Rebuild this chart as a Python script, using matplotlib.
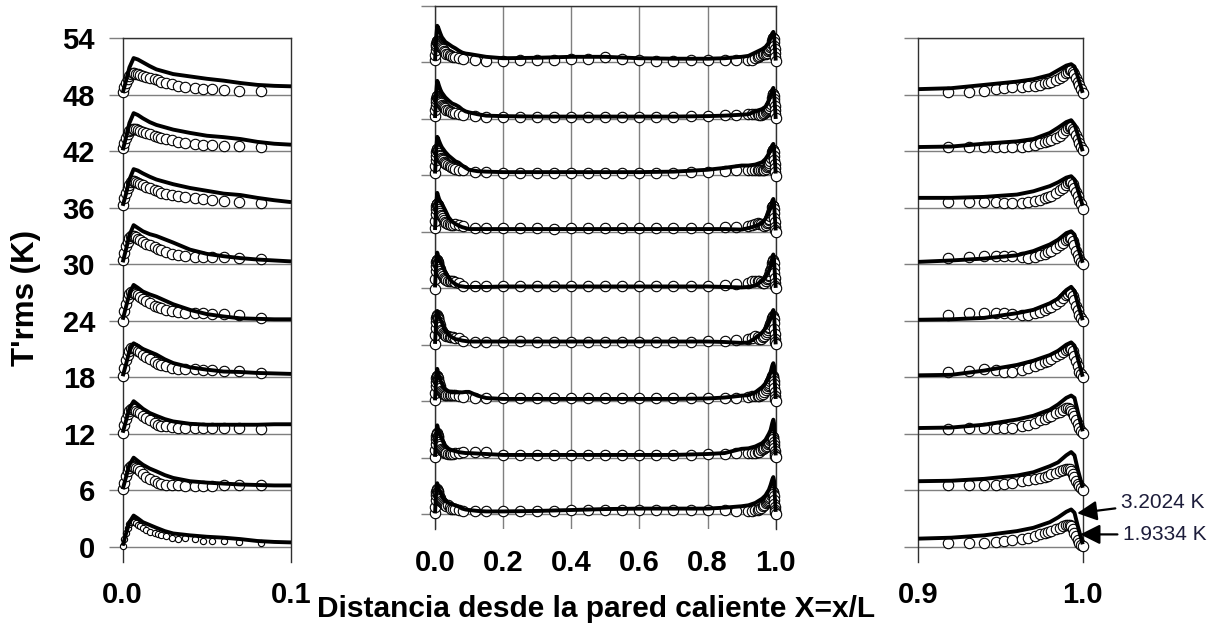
import matplotlib
matplotlib.use("Agg")
import matplotlib.pyplot as plt
import numpy as np

plt.rcParams["font.family"] = ["Liberation Sans", "DejaVu Sans"]

#------------------------------------------
# Datos: perfiles de T'rms (desplazados 6 K)
#------------------------------------------
offsets = [0, 6, 12, 18, 24, 30, 36, 42, 48]

# malla de la simulación (línea)
x_line = [0, 0.002, 0.004, 0.0065, 0.009, 0.012, 0.016, 0.02, 0.025, 0.03,
          0.04, 0.05, 0.06, 0.07, 0.08, 0.09, 0.1, 0.125, 0.15, 0.2, 0.3,
          0.4, 0.5, 0.6, 0.7, 0.8, 0.85, 0.9, 0.92, 0.94, 0.96, 0.97, 0.98,
          0.985, 0.99, 0.993, 0.995, 0.997, 1.0]

line_0 = [0.1, 1.4, 2.6, 3.3, 3.0, 2.6, 2.3, 2.0, 1.65, 1.4, 1.2, 1.05, 0.95,
          0.8, 0.6, 0.5, 0.45, 0.35, 0.3, 0.3, 0.35, 0.45, 0.55, 0.6, 0.6,
          0.6, 0.7, 0.85, 0.95, 1.2, 1.65, 2.0, 2.6, 3.1, 3.7, 3.95, 3.6,
          2.2, 0.25]
line_6 = [0.1, 1.4, 2.7, 3.45, 3.1, 2.7, 2.3, 2.0, 1.6, 1.3, 0.95, 0.8, 0.7,
          0.6, 0.55, 0.5, 0.5, 0.45, 0.4, 0.3, 0.3, 0.3, 0.3, 0.3, 0.3, 0.4,
          0.5, 0.95, 1.0, 1.2, 1.55, 1.9, 2.55, 2.95, 3.7, 4.05, 3.7, 2.2,
          0.25]
line_12 = [0.1, 1.4, 2.7, 3.45, 3.1, 2.65, 2.2, 1.9, 1.55, 1.3, 1.05, 0.95,
           0.95, 0.95, 0.95, 1.0, 1.0, 0.6, 0.35, 0.25, 0.25, 0.25, 0.25,
           0.25, 0.25, 0.3, 0.4, 0.6, 0.65, 0.95, 1.5, 1.9, 2.55, 3.1, 3.8,
           4.05, 3.8, 2.35, 0.25]
line_18 = [0.1, 1.4, 2.8, 3.6, 3.35, 3.0, 2.7, 2.4, 1.9, 1.5, 1.05, 0.8, 0.6,
           0.55, 0.45, 0.4, 0.35, 0.35, 0.35, 0.35, 0.35, 0.35, 0.35, 0.35,
           0.35, 0.35, 0.3, 0.2, 0.25, 0.7, 1.3, 1.75, 2.35, 2.8, 3.45, 3.7,
           3.35, 2.0, 0.05]
line_24 = [0.1, 1.5, 2.9, 3.8, 3.5, 3.1, 2.8, 2.55, 2.15, 1.75, 1.15, 0.7,
           0.45, 0.25, 0.2, 0.15, 0.15, 0.15, 0.15, 0.2, 0.2, 0.2, 0.2, 0.2,
           0.2, 0.2, 0.15, 0.1, 0.15, 0.3, 0.8, 1.15, 1.85, 2.35, 3.25, 3.6,
           3.15, 1.85, 0.05]
line_30 = [0.2, 1.6, 3.1, 4.15, 3.85, 3.5, 3.2, 3.0, 2.65, 2.3, 1.55, 1.1,
           0.85, 0.65, 0.5, 0.4, 0.3, 0.3, 0.3, 0.3, 0.3, 0.3, 0.3, 0.3, 0.3,
           0.3, 0.3, 0.25, 0.4, 0.6, 0.95, 1.4, 2.1, 2.6, 3.3, 3.5, 3.15,
           1.9, 0.15]
line_36 = [0.2, 1.5, 3.0, 4.1, 3.95, 3.65, 3.3, 3.0, 2.75, 2.5, 2.1, 1.8, 1.5,
           1.35, 1.05, 0.8, 0.6, 0.45, 0.4, 0.35, 0.35, 0.35, 0.35, 0.35, 0.4,
           0.6, 0.8, 1.05, 1.05, 1.15, 1.4, 1.75, 2.3, 2.7, 3.2, 3.35, 3.0,
           1.95, 0.2]
line_42 = [0.1, 1.5, 3.0, 4.05, 3.85, 3.5, 3.1, 2.8, 2.55, 2.3, 1.95, 1.65,
           1.5, 1.3, 1.0, 0.8, 0.7, 0.5, 0.35, 0.3, 0.25, 0.25, 0.25, 0.25,
           0.25, 0.3, 0.35, 0.45, 0.5, 0.8, 1.05, 1.3, 1.95, 2.5, 3.1, 3.3,
           2.85, 1.8, 0.0]
line_48 = [0.2, 1.5, 2.9, 3.9, 3.75, 3.45, 3.05, 2.7, 2.45, 2.2, 1.95, 1.7,
           1.5, 1.25, 1.05, 0.95, 0.9, 0.75, 0.6, 0.45, 0.5, 0.6, 0.6, 0.45,
           0.4, 0.4, 0.45, 0.6, 0.7, 1.05, 1.4, 1.65, 2.1, 2.6, 3.1, 3.25,
           3.0, 1.95, 0.2]

# posiciones experimentales (círculos)
x_mark = [0, 0.001, 0.002, 0.003, 0.004, 0.005, 0.006, 0.007, 0.008, 0.009,
          0.010, 0.012, 0.014, 0.016, 0.019, 0.021, 0.023, 0.026, 0.029,
          0.033, 0.037, 0.043, 0.048, 0.053, 0.060, 0.069, 0.082, 0.117,
          0.15, 0.2, 0.25, 0.3, 0.35, 0.4, 0.45, 0.5, 0.55, 0.6, 0.65, 0.7,
          0.75, 0.8, 0.85,
          0.883, 0.918, 0.931, 0.940, 0.947, 0.952, 0.957, 0.963, 0.967,
          0.971, 0.974, 0.977, 0.979, 0.981, 0.984, 0.986, 0.988, 0.990,
          0.991, 0.992, 0.993, 0.994, 0.995, 0.996, 0.997, 0.998, 0.999, 1.0]

mark_0 = [0.1, 0.8, 1.5, 2.0, 2.4, 2.6, 2.7, 2.6, 2.5, 2.35, 2.2, 1.95, 1.75,
          1.6, 1.4, 1.3, 1.2, 1.1, 0.95, 0.85, 0.95, 0.8, 0.55, 0.55, 0.55,
          0.45, 0.35, 0.3,
          0.3, 0.3, 0.3, 0.35, 0.35, 0.4, 0.4, 0.45, 0.5, 0.5, 0.5, 0.45,
          0.45, 0.45, 0.4,
          0.35, 0.35, 0.35, 0.4, 0.5, 0.6, 0.7, 0.85, 0.95, 1.15, 1.3, 1.45,
          1.55, 1.7, 1.85, 2.0, 2.15, 2.3, 2.35, 2.35, 2.2, 1.9, 1.5, 1.1,
          0.75, 0.4, 0.2, 0.05]
mark_6 = [0.1, 0.8, 1.5, 2.0, 2.35, 2.55, 2.6, 2.5, 2.35, 2.2, 2.0, 1.7, 1.45,
          1.2, 0.95, 0.8, 0.7, 0.6, 0.5, 0.5, 0.45, 0.45, 0.45, 0.45, 0.5,
          0.5, 0.6, 0.6,
          0.6, 0.3, 0.3, 0.3, 0.3, 0.3, 0.3, 0.3, 0.3, 0.3, 0.3, 0.3, 0.3,
          0.35, 0.45,
          0.5, 0.5, 0.5, 0.5, 0.6, 0.65, 0.8, 0.95, 1.05, 1.15, 1.3, 1.45,
          1.55, 1.7, 1.85, 2.0, 2.15, 2.25, 2.25, 2.2, 2.0, 1.7, 1.35, 1.0,
          0.7, 0.4, 0.2, 0.05]
mark_12 = [0.1, 0.9, 1.6, 2.1, 2.45, 2.65, 2.7, 2.6, 2.45, 2.3, 2.2, 1.9,
           1.65, 1.4, 1.1, 0.95, 0.85, 0.8, 0.7, 0.65, 0.65, 0.65, 0.65, 0.65,
           0.65, 0.6, 0.5, 0.3,
           0.3, 0.3, 0.3, 0.3, 0.3, 0.3, 0.3, 0.3, 0.3, 0.3, 0.3, 0.3, 0.3,
           0.35, 0.4,
           0.4, 0.5, 0.6, 0.6, 0.6, 0.6, 0.65, 0.8, 0.95, 1.15, 1.4, 1.6,
           1.75, 1.9, 2.15, 2.35, 2.55, 2.7, 2.7, 2.6, 2.45, 2.2, 1.85, 1.4,
           1.0, 0.55, 0.25, 0.05]
mark_18 = [0.1, 1.0, 1.8, 2.4, 2.8, 3.05, 3.15, 3.1, 2.95, 2.8, 2.7, 2.4,
           2.15, 1.9, 1.6, 1.45, 1.3, 1.15, 1.0, 0.9, 0.9, 0.85, 0.8, 0.8,
           0.7, 0.7, 0.45, 0.35,
           0.35, 0.35, 0.4, 0.35, 0.35, 0.35, 0.3, 0.35, 0.35, 0.35, 0.35,
           0.35, 0.35, 0.4, 0.45,
           0.5, 0.6, 0.7, 0.9, 0.8, 0.6, 0.6, 0.8, 0.95, 1.15, 1.4, 1.6,
           1.75, 1.9, 2.2, 2.45, 2.7, 2.9, 3.0, 3.1, 3.0, 2.75, 2.3, 1.7,
           1.2, 0.6, 0.3, 0.05]
mark_24 = [-0.05, 1.0, 1.8, 2.4, 2.8, 3.0, 3.0, 2.95, 2.85, 2.7, 2.55, 2.3,
           2.05, 1.85, 1.6, 1.5, 1.35, 1.15, 1.0, 0.9, 0.8, 0.8, 0.8, 0.75,
           0.7, 0.6, 0.3, 0.3,
           0.3, 0.3, 0.3, 0.3, 0.3, 0.3, 0.3, 0.3, 0.3, 0.3, 0.3, 0.3, 0.3,
           0.3, 0.35,
           0.45, 0.6, 0.8, 0.8, 0.8, 0.8, 0.7, 0.6, 0.6, 0.8, 0.95, 1.15,
           1.3, 1.45, 1.8, 2.1, 2.4, 2.7, 2.85, 3.0, 2.95, 2.65, 2.2, 1.6,
           1.1, 0.6, 0.25, 0.0]
mark_30 = [0.4, 1.2, 1.9, 2.4, 2.75, 2.95, 3.0, 2.95, 2.85, 2.7, 2.6, 2.4,
           2.2, 2.0, 1.8, 1.65, 1.5, 1.3, 1.1, 0.95, 0.85, 0.8, 0.75, 0.75,
           0.8, 0.7, 0.6, 0.45,
           0.4, 0.4, 0.4, 0.4, 0.35, 0.4, 0.4, 0.4, 0.4, 0.4, 0.4, 0.4, 0.4,
           0.45, 0.5,
           0.55, 0.65, 0.75, 0.85, 0.9, 0.85, 0.85, 0.75, 0.65, 0.75, 0.95,
           1.1, 1.25, 1.4, 1.7, 2.0, 2.3, 2.6, 2.7, 2.8, 2.75, 2.45, 2.0,
           1.45, 1.0, 0.55, 0.25, 0.0]
mark_36 = [0.3, 1.0, 1.6, 2.1, 2.45, 2.7, 2.8, 2.8, 2.75, 2.65, 2.55, 2.4,
           2.2, 2.05, 1.85, 1.75, 1.6, 1.45, 1.35, 1.2, 1.1, 1.0, 0.9, 0.8,
           0.7, 0.6, 0.55, 0.4,
           0.35, 0.3, 0.3, 0.25, 0.3, 0.3, 0.3, 0.3, 0.25, 0.3, 0.3, 0.3,
           0.35, 0.4, 0.5,
           0.55, 0.6, 0.6, 0.6, 0.6, 0.55, 0.55, 0.55, 0.6, 0.7, 0.85, 1.0,
           1.15, 1.3, 1.55, 1.85, 2.15, 2.45, 2.6, 2.7, 2.7, 2.5, 2.1, 1.65,
           1.2, 0.75, 0.35, -0.1]
mark_42 = [0.3, 0.9, 1.4, 1.8, 2.1, 2.3, 2.4, 2.4, 2.35, 2.25, 2.15, 2.05,
           1.9, 1.8, 1.65, 1.5, 1.4, 1.25, 1.15, 1.0, 0.9, 0.8, 0.7, 0.65,
           0.6, 0.55, 0.45, 0.3,
           0.25, 0.2, 0.2, 0.2, 0.2, 0.25, 0.25, 0.2, 0.2, 0.25, 0.2, 0.25,
           0.3, 0.35, 0.4,
           0.45, 0.5, 0.5, 0.5, 0.5, 0.4, 0.4, 0.5, 0.6, 0.7, 0.85, 0.95,
           1.05, 1.2, 1.4, 1.6, 1.9, 2.25, 2.45, 2.6, 2.6, 2.4, 2.15, 1.75,
           1.35, 0.9, 0.5, 0.1]
mark_48 = [0.3, 0.8, 1.3, 1.7, 2.0, 2.2, 2.3, 2.3, 2.25, 2.2, 2.1, 2.0, 1.9,
           1.8, 1.65, 1.55, 1.4, 1.25, 1.1, 0.95, 0.85, 0.75, 0.65, 0.6, 0.55,
           0.45, 0.35, 0.25,
           0.15, 0.15, 0.25, 0.25, 0.3, 0.4, 0.4, 0.55, 0.4, 0.25, 0.2, 0.2,
           0.25, 0.25, 0.25,
           0.25, 0.25, 0.3, 0.45, 0.6, 0.7, 0.8, 0.85, 0.9, 0.95, 1.05, 1.2,
           1.3, 1.4, 1.6, 1.75, 2.0, 2.3, 2.45, 2.6, 2.6, 2.45, 2.2, 1.8,
           1.4, 1.0, 0.6, 0.2]

lines = [line_0, line_6, line_12, line_18, line_24, line_30, line_36,
         line_42, line_48]
marks = [mark_0, mark_6, mark_12, mark_18, mark_24, mark_30, mark_36,
         mark_42, mark_48]

y_ticks = [0, 6, 12, 18, 24, 30, 36, 42, 48, 54]

#-----------------
# Figura y paneles
#-----------------
W, H = 1214, 626
fig = plt.figure(figsize=(W / 100, H / 100), dpi=100)


def px_axes(x0, y_top, x1, y_bot):
    return fig.add_axes([x0 / W, 1 - y_bot / H, (x1 - x0) / W, (y_bot - y_top) / H])


ax_l = px_axes(122.7, 38.3, 291.0, 561.7)
ax_m = px_axes(435.0, 6.0, 775.7, 529.3)
ax_r = px_axes(918.3, 38.3, 1082.7, 561.7)

panels = [
    (ax_l, 0.0, 0.1, [0.0, 0.1]),
    (ax_m, 0.0, 1.0, [0.0, 0.2, 0.4, 0.6, 0.8, 1.0]),
    (ax_r, 0.9, 1.0, [0.9, 1.0]),
]

xl = np.array(x_line)
xm = np.array(x_mark)

for ax, x0, x1, xt in panels:
    ax.set_xlim(x0, x1)
    ax.set_ylim(-1.6, 54)
    for side in ("top", "left", "right"):
        ax.spines[side].set_color("#303030")
        ax.spines[side].set_linewidth(1.0)
    ax.spines["bottom"].set_visible(False)

    ax.set_yticks(y_ticks)
    ax.yaxis.grid(True, color="#7f7f7f", lw=1.0)
    ax.tick_params(axis="y", direction="out", length=10, width=1.0,
                   color="#7f7f7f", pad=10, labelsize=21)
    ax.set_xticks(xt)
    ax.set_xticklabels([f"{v:.1f}" for v in xt], fontsize=21, fontweight="bold")
    ax.tick_params(axis="x", length=0, pad=14)
    if ax is ax_l:
        for lab in ax.get_yticklabels():
            lab.set_fontweight("bold")
    else:
        ax.set_yticklabels([])
    if ax is ax_m:
        ax.xaxis.grid(True, color="#7f7f7f", lw=1.0)
    ax.set_axisbelow(True)

    sel_l = (xl >= x0) & (xl <= x1)
    sel_m = (xm >= x0) & (xm <= x1)
    for k, off in enumerate(offsets):
        ms = 4.5 if (ax is ax_l and off == 0) else 7.5
        ax.plot(xm[sel_m], np.array(marks[k])[sel_m] + off, "o", ms=ms,
                mfc="white", mec="black", mew=0.8, clip_on=False, zorder=3)
        ax.plot(xl[sel_l], np.array(lines[k])[sel_l] + off, "-", color="black",
                lw=2.8, clip_on=False, zorder=4, solid_capstyle="butt")

#---------------------------
# Anotaciones de los máximos
#---------------------------
arrow = dict(arrowstyle="-|>", color="black", lw=1.6, mutation_scale=30,
             shrinkA=2, shrinkB=0)
ax_r.annotate("3.2024 K", xy=(0.9966, 3.55), xytext=(1.0232, 4.7),
              ha="left", va="center", fontsize=15, color="#1c1c3a",
              arrowprops=arrow, annotation_clip=False)
ax_r.annotate("1.9334 K", xy=(0.9985, 1.3), xytext=(1.0245, 1.3),
              ha="left", va="center", fontsize=15, color="#1c1c3a",
              arrowprops=arrow, annotation_clip=False)

#---------
# Etiquetas
#---------
fig.text(596 / W, 1 - 609 / H, "Distancia desde la pared caliente X=x/L",
         ha="center", va="center", fontsize=21.5, fontweight="bold")
fig.text(26 / W, 1 - 298 / H, "T'rms (K)", rotation=90,
         ha="center", va="center", fontsize=22.5, fontweight="bold")

fig.savefig("out.png", dpi=100)
